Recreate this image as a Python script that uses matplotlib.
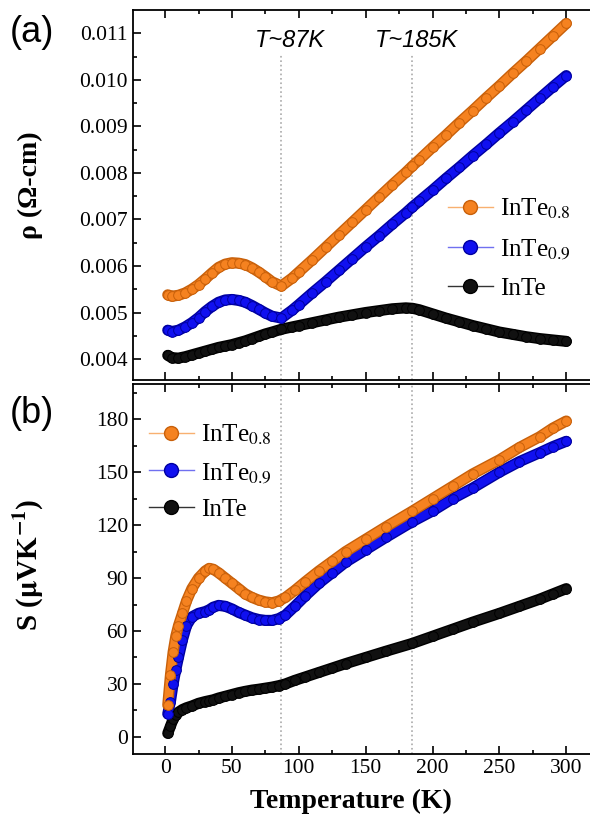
import matplotlib
matplotlib.use("Agg")
import matplotlib.pyplot as plt
from matplotlib.lines import Line2D
import matplotlib.patheffects as pe
import numpy as np

plt.rcParams['font.family'] = 'Liberation Serif'
plt.rcParams['mathtext.fontset'] = 'stix'

# resistivity data (Ohm-cm) vs temperature (K)
T_rho = [2, 5, 10, 15, 20, 25, 30, 35, 40, 45, 50, 55, 60, 65, 70, 75, 80, 87,
         95, 100, 110, 120, 130, 140, 150, 160, 170, 180, 185, 190, 200, 210,
         220, 230, 240, 250, 260, 270, 280, 290, 300]
rho_08 = [0.00538, 0.00535, 0.00537, 0.00542, 0.00550, 0.00560, 0.00572, 0.00585,
          0.00597, 0.00604, 0.00607, 0.00606, 0.00603, 0.00596, 0.00587, 0.00577,
          0.00566, 0.00557, 0.00574, 0.00587, 0.00613, 0.00640, 0.00667, 0.00694,
          0.00721, 0.00748, 0.00775, 0.00801, 0.00815, 0.00828, 0.00855, 0.00881,
          0.00908, 0.00934, 0.00961, 0.00987, 0.01014, 0.01040, 0.01067, 0.01094,
          0.01121]
rho_09 = [0.00462, 0.00459, 0.00462, 0.00469, 0.00478, 0.00489, 0.00502, 0.00513,
          0.00522, 0.00527, 0.00528, 0.00526, 0.00522, 0.00515, 0.00507, 0.00499,
          0.00492, 0.00488, 0.00505, 0.00517, 0.00542, 0.00566, 0.00591, 0.00616,
          0.00641, 0.00665, 0.00690, 0.00714, 0.00727, 0.00739, 0.00763, 0.00788,
          0.00812, 0.00837, 0.00861, 0.00886, 0.00910, 0.00935, 0.00960, 0.00985,
          0.01009]
rho_10 = [0.00408, 0.00403, 0.00402, 0.00405, 0.00409, 0.00413, 0.00417, 0.00421,
          0.00425, 0.00428, 0.00431, 0.00435, 0.00439, 0.00444, 0.00449, 0.00454,
          0.00458, 0.00464, 0.00469, 0.00472, 0.00478, 0.00484, 0.00490, 0.00495,
          0.00500, 0.00504, 0.00508, 0.00510, 0.00509, 0.00506, 0.00497, 0.00488,
          0.00480, 0.00472, 0.00465, 0.00458, 0.00453, 0.00448, 0.00444, 0.00441,
          0.00438]

# Seebeck data (uV/K) vs temperature (K)
T_S = [2, 4, 6, 8, 10, 13, 16, 20, 25, 30, 33, 36, 40, 45, 50, 55, 60, 65, 70,
       75, 80, 85, 90, 97, 105, 115, 125, 135, 150, 165, 185, 200, 215, 230,
       250, 265, 280, 290, 300]
S_08 = [18, 35, 48, 57, 63, 70, 77, 84, 90, 94, 95.5, 95, 93, 90, 87, 84, 81, 79,
        77.5, 76.5, 76, 77, 79, 83, 88, 94, 99.5, 105, 112, 119, 128, 135, 142, 149,
        157, 164, 170, 175, 179]
S_09 = [13, 20, 30, 38, 45, 55, 63, 68, 70, 71, 72, 73.5, 74.5, 74, 72.5, 70.5,
        69, 67.5, 66.5, 66, 66, 67, 69, 74, 80, 87, 93, 99, 106, 113, 122, 128,
        135, 141, 150, 156, 161, 164.5, 167.5]
S_10 = [2, 6, 10, 12.5, 14, 15.5, 16.5, 17.5, 19, 20, 20.5, 21, 22, 23, 24, 25,
        25.8, 26.5, 27, 27.6, 28.2, 29, 30, 32, 34, 36.5, 39, 41.5, 45, 48.5, 53,
        57, 61, 65, 70, 74, 78, 81, 84]

c_08 = '#F58220'
c_09 = '#1010F0'
c_10 = '#111111'
e_08 = '#C8600A'
e_09 = '#0000A0'
e_10 = '#000000'

fig = plt.figure(figsize=(5.9, 8.25), dpi=100)
ax1 = fig.add_axes([0.2254, 0.5394, 0.7797, 0.4485])
ax2 = fig.add_axes([0.2254, 0.0861, 0.7797, 0.4485])


def draw(ax, x, y, c, e):
    ax.plot(x, y, '-', color=c, lw=6, solid_capstyle='round', zorder=3,
            path_effects=[pe.Stroke(linewidth=8, foreground=e), pe.Normal()])
    ax.plot(x, y, 'o', ms=7, mfc=c, mec=e, mew=0.7, zorder=4)


draw(ax1, T_rho, rho_10, c_10, e_10)
draw(ax1, T_rho, rho_09, c_09, e_09)
draw(ax1, T_rho, rho_08, c_08, e_08)

draw(ax2, T_S, S_10, c_10, e_10)
draw(ax2, T_S, S_09, c_09, e_09)
draw(ax2, T_S, S_08, c_08, e_08)

for ax in (ax1, ax2):
    ax.set_xlim(-24, 320)
    ax.set_xticks(np.arange(0, 301, 50))
    ax.set_xticks(np.arange(25, 320, 50), minor=True)
    ax.tick_params(which='both', direction='in', top=True, right=False,
                   width=1.2, labelsize=15.5)
    ax.tick_params(which='major', length=6)
    ax.tick_params(which='minor', length=3)
    for s in ax.spines.values():
        s.set_linewidth(1.3)
    ax.spines['right'].set_visible(False)
    ax.axvline(87, color='#aaaaaa', ls=':', lw=1.2, zorder=1,
               ymax=0.878 if ax is ax1 else 1)
    ax.axvline(185, color='#aaaaaa', ls=':', lw=1.2, zorder=1,
               ymax=0.878 if ax is ax1 else 1)

ax1.set_ylim(0.00355, 0.0115)
ax1.set_yticks(np.arange(0.004, 0.01101, 0.001))
ax1.set_yticks(np.arange(0.0045, 0.0115, 0.001), minor=True)
ax1.yaxis.set_major_formatter(plt.FuncFormatter(lambda v, p: f"{v:.3f}"))
ax1.tick_params(labelbottom=False)
ax1.set_ylabel('ρ (Ω-cm)', fontsize=20, fontweight='bold')
ax1.yaxis.set_label_coords(-0.195, 0.527)

ax2.set_ylim(-9.7, 200)
ax2.set_yticks(np.arange(0, 181, 30))
ax2.set_yticks(np.arange(15, 200, 30), minor=True)
ax2.set_ylabel(r'S ($\mathbf{\mu}$VK$^{\mathbf{-1}}$)', fontsize=21,
               fontweight='bold')
ax2.yaxis.set_label_coords(-0.19, 0.51)
ax2.set_xlabel('Temperature (K)', fontsize=20, fontweight='bold')
ax2.xaxis.set_label_coords(0.474, -0.095)

ax1.text(93, 0.01085, 'T~87K', ha='center', va='center', fontsize=17,
         style='italic', family='Liberation Sans')
ax1.text(188, 0.01085, 'T~185K', ha='center', va='center', fontsize=17,
         style='italic', family='Liberation Sans')

fig.text(0.017, 0.982, '(a)', fontsize=26, family='Liberation Sans', va='top')
fig.text(0.017, 0.52, '(b)', fontsize=26, family='Liberation Sans', va='top')

labels = ['InTe$_{0.8}$', 'InTe$_{0.9}$', 'InTe']
handles = [
    Line2D([], [], color='#F8B070', lw=1, marker='o', ms=10, mfc=c_08, mec=e_08),
    Line2D([], [], color='#7070F0', lw=1, marker='o', ms=10, mfc=c_09, mec=e_09),
    Line2D([], [], color='#333333', lw=1, marker='o', ms=10, mfc=c_10, mec=e_10),
]
ax1.legend(handles, labels, loc='center left', bbox_to_anchor=(0.635, 0.356),
           frameon=False, fontsize=18, handlelength=1.8, labelspacing=0.65,
           handletextpad=0.3)
ax2.legend(handles, labels, loc='upper left', bbox_to_anchor=(-0.015, 0.955),
           frameon=False, fontsize=18, handlelength=1.8, labelspacing=0.55,
           handletextpad=0.3)

fig.savefig('out.png', dpi=100)
